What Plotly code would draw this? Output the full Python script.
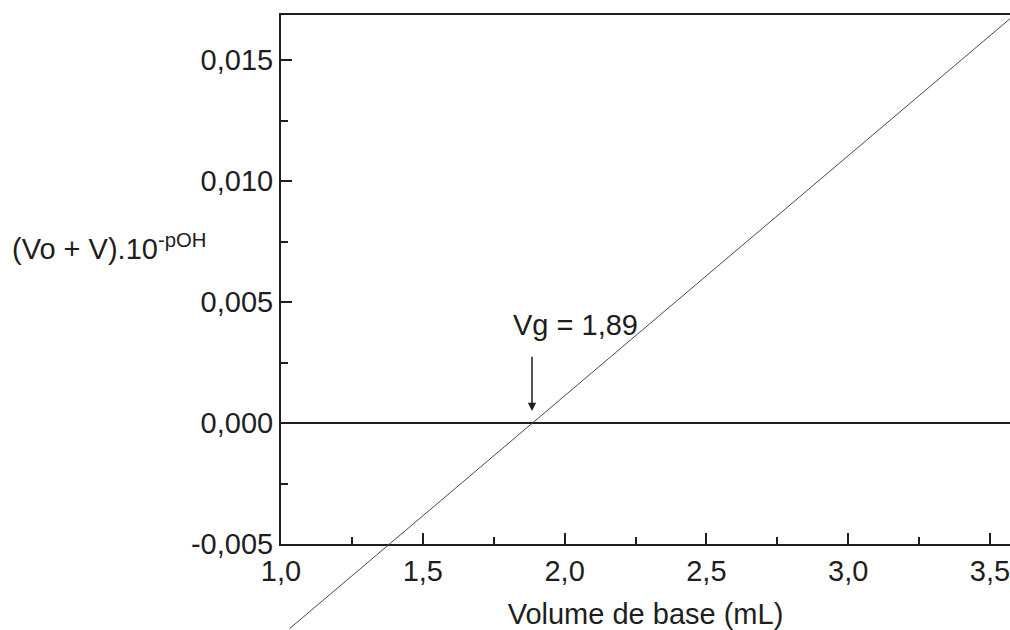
import plotly.graph_objects as go

# ---------------- data ----------------
x_line = [1.03, 3.58]            # Volume de base (mL)
y_line = [-0.0085, 0.0168]       # (Vo + V).10^-pOH
vg_value = 1.885
vg_label = "Vg = 1,89"

x_tickvals = [1.0, 1.5, 2.0, 2.5, 3.0, 3.5]
x_ticktext = ["1,0", "1,5", "2,0", "2,5", "3,0", "3,5"]
y_tickvals = [-0.005, 0.0, 0.005, 0.010, 0.015]
y_ticktext = ["-0,005", "0,000", "0,005", "0,010", "0,015"]

x_title = "Volume de base (mL)"
y_title = "(Vo + V).10<sup>-pOH</sup>"

# ---------------- layout geometry ----------------
W, H = 1010, 630
FONT = "Liberation Sans, Arial, Helvetica, sans-serif"
INK = "#1e1e1e"
FS = 29

xdom = [281 / W, 1.0]
xr = [1.0, 3.5705]
ydom = [(H - 544) / H, (H - 15) / H]
yr = [-0.005, 0.01686]


def extend(r, dom):
    span = (r[1] - r[0]) / (dom[1] - dom[0])
    return [r[0] - dom[0] * span, r[1] + (1 - dom[1]) * span]


xr2 = extend(xr, xdom)
yr2 = extend(yr, ydom)

fig = go.Figure()
# empty trace so the main subplot exists
fig.add_trace(go.Scatter(x=[], y=[], xaxis="x", yaxis="y", showlegend=False))
# fitted line (drawn on a full-figure axis pair so it may run past the frame)
fig.add_trace(go.Scatter(
    x=x_line, y=y_line, mode="lines", xaxis="x2", yaxis="y2",
    line=dict(color="#4a4a4a", width=1), showlegend=False, hoverinfo="skip"))

tickfont = dict(family=FONT, size=FS, color=INK)

fig.update_layout(
    width=W, height=H, autosize=False,
    margin=dict(l=0, r=0, t=0, b=0, autoexpand=False),
    paper_bgcolor="white", plot_bgcolor="rgba(0,0,0,0)",
    showlegend=False,
    font=dict(family=FONT, color=INK),
    xaxis=dict(
        domain=xdom, range=xr, anchor="y", automargin=False,
        tickmode="array", tickvals=x_tickvals, ticktext=x_ticktext,
        ticklabeloverflow="allow",
        ticks="inside", ticklen=11, tickwidth=1.5, tickcolor=INK,
        minor=dict(tickmode="linear", tick0=1.0, dtick=0.25, ticks="inside",
                   ticklen=7, tickwidth=1.5, tickcolor=INK),
        showline=True, linecolor=INK, linewidth=2, mirror=True,
        showgrid=False, zeroline=False, tickfont=tickfont,
        title=dict(text=x_title, font=dict(family=FONT, size=FS, color=INK), standoff=22),
    ),
    yaxis=dict(
        domain=ydom, range=yr, anchor="x", automargin=False,
        tickmode="array", tickvals=y_tickvals, ticktext=y_ticktext,
        ticklabeloverflow="allow",
        ticks="inside", ticklen=11, tickwidth=1.5, tickcolor=INK,
        minor=dict(tickmode="linear", tick0=0.0, dtick=0.0025, ticks="inside",
                   ticklen=7, tickwidth=1.5, tickcolor=INK),
        showline=True, linecolor=INK, linewidth=2, mirror=False,
        showgrid=False, zeroline=True, zerolinecolor=INK, zerolinewidth=2,
        tickfont=tickfont,
    ),
    xaxis2=dict(domain=[0, 1], range=xr2, anchor="y2", visible=False,
                fixedrange=True, automargin=False),
    yaxis2=dict(domain=[0, 1], range=yr2, anchor="x2", visible=False,
                fixedrange=True, automargin=False),
)

fig.add_annotation(
    xref="paper", yref="paper", x=10 / W, y=1 - 247 / H,
    xanchor="left", yanchor="middle", showarrow=False,
    text=y_title, font=dict(family=FONT, size=FS, color=INK))

# arrow pointing to the equivalence volume
fig.add_annotation(
    xref="x", yref="y", axref="x", ayref="y",
    x=vg_value, y=0.0005, ax=vg_value, ay=0.0028,
    text="", showarrow=True, arrowhead=2, arrowsize=1.1, arrowwidth=1.5,
    arrowcolor=INK, standoff=0, startstandoff=0)

fig.add_annotation(
    xref="x", yref="y", x=2.038, y=0.00405,
    xanchor="center", yanchor="middle", showarrow=False,
    text=vg_label, font=dict(family=FONT, size=FS, color=INK))

fig.write_html("out.html")
